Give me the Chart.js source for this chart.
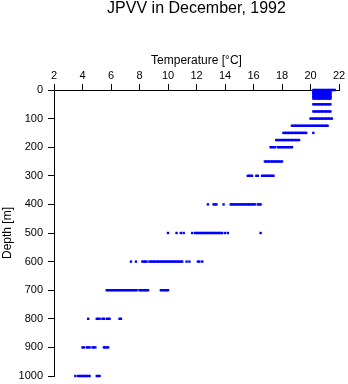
<!DOCTYPE html>
<html><head><meta charset="utf-8">
<script src="https://cdn.jsdelivr.net/npm/chart.js@4/dist/chart.umd.min.js"></script>
<style>html,body{margin:0;padding:0;background:#fff;}canvas{display:block;}</style>
</head><body>
<canvas id="c" width="348" height="384"></canvas>
<script>
const titleText = 'JPVV in December, 1992';
const xTitle = 'Temperature [°C]';
const yTitle = 'Depth [m]';

const depthLevels = [0,5,10,15,20,25,30,50,75,100,125,150,175,200,250,300,400,500,600,700,800,900,1000];

const temps0 = [20.2,20.3,20.4,20.5,20.6,20.7,20.8,20.9,21.0,21.1,21.2,21.3,21.4,21.5,21.6,21.7];
const temps5 = [20.2,20.3,20.4,20.5,20.6,20.7,20.8,20.9,21.0,21.1,21.2,21.3,21.4];
const temps10 = [20.2,20.3,20.4,20.5,20.6,20.7,20.8,20.9,21.0,21.1,21.2,21.3,21.4];
const temps15 = [20.2,20.3,20.4,20.5,20.6,20.7,20.8,20.9,21.0,21.1,21.2,21.3,21.4];
const temps20 = [20.2,20.3,20.4,20.5,20.6,20.7,20.8,20.9,21.0,21.1,21.2,21.3,21.4];
const temps25 = [20.2,20.3,20.4,20.5,20.6,20.7,20.8,20.9,21.0,21.1,21.2,21.3,21.4];
const temps30 = [20.2,20.3,20.4,20.5,20.6,20.7,20.8,20.9,21.0,21.1,21.2,21.3,21.4];
const temps50 = [20.2,20.3,20.4,20.5,20.6,20.7,20.8,20.9,21.0,21.1,21.2,21.3,21.4];
const temps75 = [20.2,20.3,20.4,20.5,20.6,20.7,20.8,20.9,21.0,21.1,21.2,21.3,21.4];
const temps100 = [20.0,20.1,20.2,20.3,20.4,20.5,20.6,20.7,20.8,20.9,21.0,21.1,21.2,21.3,21.4,21.5];
const temps125 = [18.7,18.8,18.9,19.0,19.1,19.2,19.3,19.4,19.5,19.6,19.7,19.8,19.9,20.0,20.1,20.2,20.3,20.4,20.5,20.6,20.7,20.8,20.9,21.0,21.1,21.2];
const temps150 = [18.1,18.2,18.3,18.4,18.5,18.6,18.7,18.8,18.9,19.0,19.1,19.2,19.3,19.4,19.5,19.6,19.7,20.2];
const temps175 = [17.6,17.7,17.8,17.9,18.0,18.1,18.2,18.3,18.4,18.5,18.6,18.7,18.8,18.9,19.0,19.1,19.2];
const temps200 = [17.2,17.3,17.4,17.5,17.7,17.8,17.9,18.0,18.1,18.2,18.3,18.4,18.5,18.6,18.7];
const temps250 = [16.8,16.9,17.0,17.1,17.2,17.3,17.4,17.5,17.6,17.7,17.8,17.9,18.0];
const temps300 = [15.6,15.7,15.8,15.9,16.2,16.3,16.6,16.7,16.8,16.9,17.0,17.1,17.2,17.3,17.4];
const temps400 = [12.8,13.2,13.3,13.4,13.9,14.4,14.5,14.6,14.7,14.8,14.9,15.0,15.1,15.2,15.3,15.4,15.5,15.6,15.7,15.8,15.9,16.0,16.1,16.3,16.4,16.5];
const temps500 = [10.0,10.6,10.9,11.1,11.7,11.9,12.0,12.1,12.2,12.3,12.4,12.5,12.6,12.7,12.8,12.9,13.0,13.1,13.2,13.3,13.4,13.5,13.6,13.7,13.8,14.0,14.2,16.5];
const temps600 = [7.4,7.75,8.2,8.3,8.4,8.5,8.7,8.8,8.9,9.0,9.1,9.2,9.3,9.4,9.5,9.6,9.7,9.8,9.9,10.0,10.1,10.2,10.3,10.4,10.5,10.6,10.7,10.8,10.9,11.0,11.3,11.5,12.1,12.2,12.4];
const temps700 = [5.7,5.8,5.9,6.0,6.1,6.2,6.3,6.4,6.5,6.6,6.7,6.8,6.9,7.0,7.1,7.2,7.3,7.4,7.5,7.6,7.7,7.8,8.0,8.1,8.2,8.3,8.4,8.5,8.6,9.5,9.6,9.7,9.8,9.9,10.0];
const temps800 = [4.4,5.0,5.1,5.2,5.4,5.5,5.7,5.8,5.9,6.6,6.7];
const temps900 = [4.0,4.1,4.3,4.4,4.5,4.7,4.8,4.9,5.5,5.6,5.7,5.8];
const temps1000 = [3.5,3.7,3.8,3.9,4.0,4.1,4.2,4.3,4.4,4.5,5.0,5.1,5.2];

const tempsByDepth = [temps0,temps5,temps10,temps15,temps20,temps25,temps30,temps50,temps75,temps100,temps125,temps150,temps175,temps200,temps250,temps300,temps400,temps500,temps600,temps700,temps800,temps900,temps1000];

const points = [];
depthLevels.forEach((d, i) => tempsByDepth[i].forEach(t => points.push({x: t, y: d})));

const FONT = '"Liberation Sans", Arial, Helvetica, sans-serif';
Chart.defaults.color = '#000';
Chart.defaults.font.family = FONT;

new Chart(document.getElementById('c'), {
  type: 'scatter',
  data: {
    datasets: [{
      data: points,
      pointStyle: 'rect',
      pointRadius: 1.7,
      pointHoverRadius: 1.7,
      pointBorderWidth: 0,
      backgroundColor: '#0000ff',
      borderColor: '#0000ff',
      clip: false
    }]
  },
  options: {
    responsive: false,
    animation: false,
    devicePixelRatio: 1,
    events: [],
    layout: { padding: { left: 0, right: 9, top: 0, bottom: 8 } },
    plugins: {
      legend: { display: false },
      tooltip: { enabled: false },
      title: {
        display: true,
        fullSize: false,
        text: titleText,
        color: '#000',
        font: { size: 16, weight: 'normal', family: FONT, lineHeight: 1 },
        padding: { top: 1, bottom: 36.8 }
      }
    },
    scales: {
      x: {
        type: 'linear',
        position: 'top',
        min: 2, max: 22,
        afterFit: s => { s.height = 36.2; s.paddingLeft = 0; s.paddingRight = 0; },
        ticks: { stepSize: 2, color: '#000', font: { size: 11, family: FONT }, padding: 1, maxRotation: 0, callback: v => String(v) },
        grid: { display: true, drawOnChartArea: false, drawTicks: true, tickLength: 6, color: '#000', lineWidth: 1 },
        border: { display: true, color: '#000', width: 1 },
        title: { display: true, text: xTitle, color: '#000', font: { size: 12, family: FONT }, padding: { top: 0, bottom: 0 } }
      },
      y: {
        type: 'linear',
        reverse: true,
        min: 0, max: 1000,
        afterFit: s => { s.width = 54; s.paddingTop = 0; s.paddingBottom = 0; },
        ticks: { stepSize: 100, color: '#000', font: { size: 11, family: FONT }, padding: 5, callback: v => String(v) },
        grid: { display: true, drawOnChartArea: false, drawTicks: true, tickLength: 6, color: '#000', lineWidth: 1 },
        border: { display: true, color: '#000', width: 1 },
        title: { display: true, text: yTitle, color: '#000', font: { size: 12, family: FONT }, padding: { top: 0, bottom: 0 } }
      }
    }
  }
});
</script>
</body></html>
